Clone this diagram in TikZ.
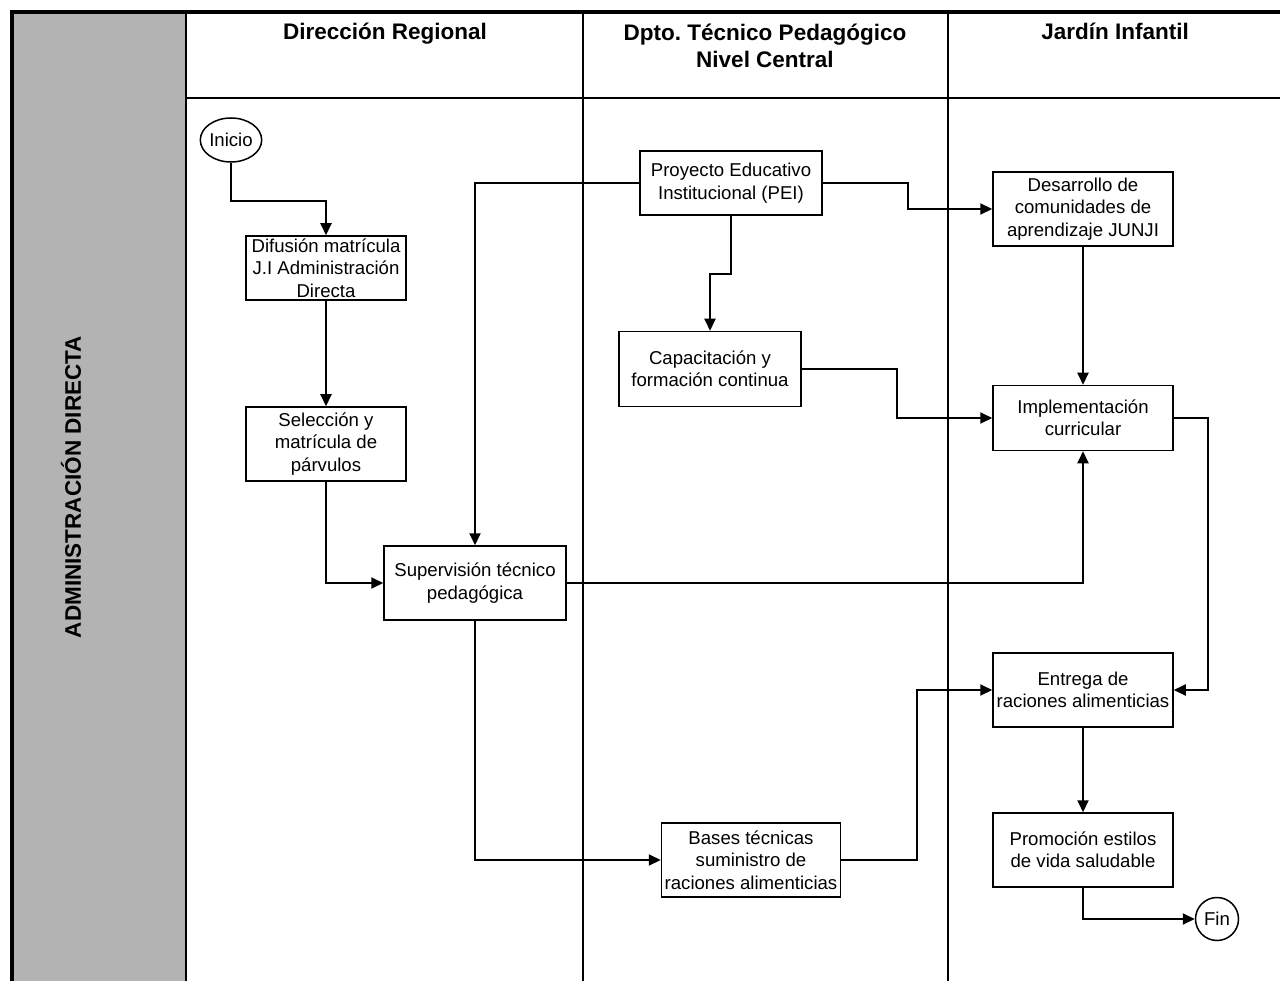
\documentclass[tikz,border=0pt]{standalone}
\usepackage{fontspec}
\setmainfont{Liberation Sans}
\usetikzlibrary{arrows.meta,shapes.geometric}
\definecolor{lanegray}{HTML}{B3B3B3}
\frenchspacing
\tikzset{
  proc/.style={draw, line width=1.5pt, fill=white, minimum width=#1, minimum height=74pt, inner sep=0pt, align=center, font=\fontsize{18.6}{22.4}\selectfont},
  proc/.default=180pt,
  term/.style={draw, line width=1.5pt, fill=white, ellipse, inner sep=0pt, font=\fontsize{18.6}{22.4}\selectfont},
  arr/.style={line width=2pt, -{Triangle[length=12pt,width=11pt]}},
  lane/.style={line width=2pt},
  hdr/.style={font=\bfseries\fontsize{22.5}{27}\selectfont, align=center, inner sep=0pt}
}
\begin{document}
\begin{tikzpicture}[x=1pt,y=-1pt]
\useasboundingbox (0,0) rectangle (1280,981);
% frame
\fill[lanegray] (12,12) rectangle (186,981);
\draw[lane] (186,12) -- (186,981);
\draw[lane] (186,98) -- (1280,98);
\draw[lane] (583,12) -- (583,981);
\draw[lane] (948,12) -- (948,981);
\draw[line width=4pt] (12,981) -- (12,12) -- (1280,12);
% headers
\node[hdr, anchor=base] (h1) at (385,40) {Dirección Regional};
\node[hdr] (h2) at (765,46) {Dpto. Técnico Pedagógico\\Nivel Central};
\node[hdr, anchor=base] (h3) at (1115,40) {Jardín Infantil};
\node[hdr, rotate=90] (pool) at (71,487) {ADMINISTRACIÓN DIRECTA};
% nodes
\node[term, minimum width=55pt, minimum height=44pt] (ini) at (231,140) {Inicio};
\node[proc=160pt, minimum height=64pt] (dif) at (326,268) {Difusión matrícula\\J.I Administración\\Directa};
\node[proc=160pt] (sel) at (326,444) {Selección y\\matrícula de\\párvulos};
\node[proc=182pt] (sup) at (475,583) {Supervisión técnico\\pedagógica};
\node[proc=182pt, minimum height=64pt] (pro) at (731,183) {Proyecto Educativo\\Institucional (PEI)};
\node[proc=182pt, minimum height=75pt] (cap) at (710,369) {Capacitación y\\formación continua};
\node[proc=179pt] (bas) at (751,860) {Bases técnicas\\suministro de\\raciones alimenticias};
\node[proc] (des) at (1083,209) {Desarrollo de\\comunidades de\\aprendizaje JUNJI};
\node[proc, minimum height=65pt] (imp) at (1083,418) {Implementación\\curricular};
\node[proc] (ent) at (1083,690) {Entrega de\\raciones alimenticias};
\node[proc] (pmo) at (1083,850) {Promoción estilos\\de vida saludable};
\node[term, circle, minimum size=43pt] (fin) at (1217,919) {Fin};
% connectors
\draw[arr] (ini.south) -- ++(0,38) -| (dif.north);
\draw[arr] (dif.south) -- (sel.north);
\draw[arr] (sel.south) |- (sup.west);
\draw[arr] (pro.west) -| (sup.north);
\draw[arr] (pro.south) -- ++(0,58) -| (cap.north);
\draw[arr] (pro.east) -- ++(85,0) |- (des.west);
\draw[arr] (cap.east) -- ++(95,0) |- (imp.west);
\draw[arr] (des.south) -- (imp.north);
\draw[arr] (sup.east) -| (imp.south);
\draw[arr] (imp.east) -- ++(34,0) |- (ent.east);
\draw[arr] (sup.south) |- (bas.west);
\draw[arr] (bas.east) -- ++(76,0) |- (ent.west);
\draw[arr] (ent.south) -- (pmo.north);
\draw[arr] (pmo.south) |- (fin.west);
\end{tikzpicture}
\end{document}
